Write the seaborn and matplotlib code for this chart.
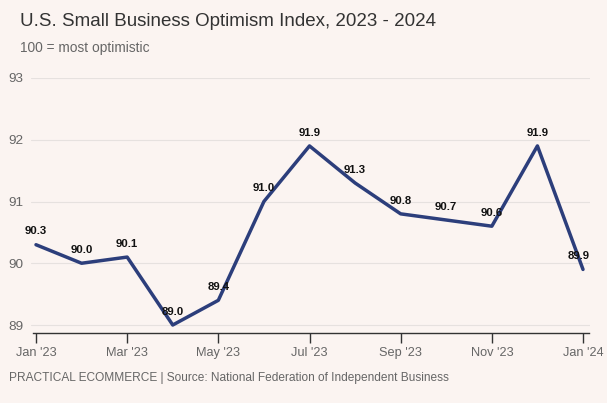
"""Small business optimism index, 2023-2024."""

import matplotlib

matplotlib.use("Agg")
import matplotlib.pyplot as plt
import pandas as pd
import seaborn as sns

MONTHS = list(range(13))
INDEX_VALUES = [90.3, 90.0, 90.1, 89.0, 89.4, 91.0, 91.9, 91.3, 90.8, 90.7, 90.6, 91.9, 89.9]
TICK_POS = [0, 2, 4, 6, 8, 10, 12]
TICK_LABELS = ["Jan '23", "Mar '23", "May '23", "Jul '23", "Sep '23", "Nov '23", "Jan '24"]
Y_TICKS = [89, 90, 91, 92, 93]

BG = "#fbf4f1"
LINE = "#2c3e7b"
GREY = "#666666"

sns.set_theme(style="white")
plt.rcParams["font.family"] = ["Liberation Sans", "DejaVu Sans"]

df = pd.DataFrame({"month": MONTHS, "value": INDEX_VALUES})

# axes box in pixels: left 31, right 590, top 78, bottom 333
L, R, T, B = 31, 590, 78, 333
fig = plt.figure(figsize=(6.07, 4.03), dpi=100, facecolor=BG)
ax = fig.add_axes([L / 607, (403 - B) / 403, (R - L) / 607, (B - T) / 403])
ax.set_facecolor(BG)

sns.lineplot(data=df, x="month", y="value", color=LINE, linewidth=2.5, ax=ax)

for x, y in zip(df["month"], df["value"]):
    ha, dx = ("right", 5) if x == MONTHS[-1] else ("center", 0)
    ax.annotate(
        f"{y:.1f}",
        (x, y),
        xytext=(dx, 6),
        textcoords="offset points",
        ha=ha,
        va="bottom",
        fontsize=8.2,
        fontweight="bold",
        color="#111111",
        annotation_clip=False,
    )

px = (583 - 36) / 12  # pixels per month
ax.set_xlim(-(36 - L) / px, 12 + (R - 583) / px)
ax.set_ylim(89 - (B - 325) / ((325 - 78) / 4), 93.0)
ax.set_yticks(Y_TICKS)
ax.set_xticks(TICK_POS)
ax.set_xticklabels(TICK_LABELS)
ax.set_xlabel("")
ax.set_ylabel("")
ax.grid(axis="y", color="#e6e1df", linewidth=0.8)
ax.set_axisbelow(True)

for side in ("top", "right", "left"):
    ax.spines[side].set_visible(False)
ax.spines["bottom"].set_color("#333333")
ax.spines["bottom"].set_linewidth(1.0)
ax.spines["bottom"].set_bounds(-(36 - 33) / px, 12 + (589 - 583) / px)

ax.tick_params(axis="x", length=7, width=1, colors=GREY, labelsize=9.2, bottom=True, pad=3)
ax.tick_params(axis="x", color="#333333")
ax.tick_params(axis="y", length=0, labelsize=9.7, colors=GREY, pad=0)
for lbl in ax.get_yticklabels():
    lbl.set_horizontalalignment("left")
    lbl.set_x(-(L - 8) / (R - L))

fig.text(20 / 607, 1 - 22 / 403, "U.S. Small Business Optimism Index, 2023 - 2024",
         fontsize=13.5, color="#333333", va="center")
fig.text(20 / 607, 1 - 48 / 403, "100 = most optimistic", fontsize=9.9, color=GREY, va="center")
fig.text(9 / 607, 1 - 378 / 403,
         "PRACTICAL ECOMMERCE | Source: National Federation of Independent Business",
         fontsize=8.6, color=GREY, va="center")

fig.savefig("out.png", dpi=100, facecolor=BG)
